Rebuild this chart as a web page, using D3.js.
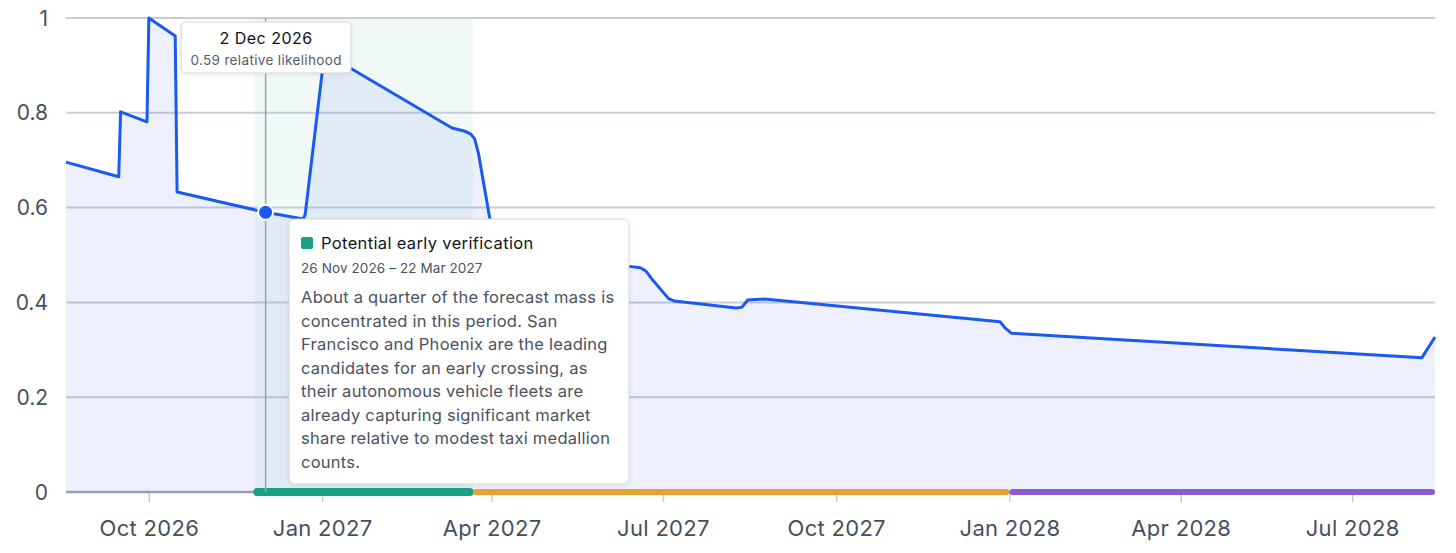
<!DOCTYPE html>
<html><head><meta charset="utf-8">
<script src="https://cdn.jsdelivr.net/npm/d3@7"></script>
<style>
html,body{margin:0;padding:0;background:#fff;}
svg{display:block;font-family:Inter,"Noto Sans",sans-serif;}
</style></head><body><svg id="c" width="1456" height="553"></svg>
<script>
// ---- data ----
const dates = ["2026-08-18","2026-09-15","2026-09-16","2026-09-30","2026-10-01","2026-10-15","2026-10-16",
  "2026-12-02","2026-12-22","2026-12-23","2027-01-01","2027-01-03","2027-01-17","2027-03-11","2027-03-18","2027-03-21","2027-03-23","2027-03-25",
  "2027-03-31","2027-04-05","2027-04-14","2027-06-13","2027-06-19","2027-06-22","2027-06-25","2027-07-04","2027-07-07","2027-08-09",
  "2027-08-12","2027-08-15","2027-08-24","2027-12-27","2027-12-30","2028-01-02","2028-08-07","2028-08-14"];
const values = [0.696,0.665,0.802,0.781,1.0,0.962,0.633,
  0.59,0.576,0.585,0.884,0.928,0.892,0.768,0.761,0.755,0.745,0.715,
  0.578,0.515,0.495,0.476,0.473,0.466,0.450,0.408,0.403,0.388,
  0.390,0.405,0.407,0.359,0.345,0.335,0.283,0.327];
const yTicks = [0,0.2,0.4,0.6,0.8,1];
const xTickDates = ["2026-10-01","2027-01-01","2027-04-01","2027-07-01","2027-10-01","2028-01-01","2028-04-01","2028-07-01"];
const periodStarts = ["2026-11-26","2027-03-22","2028-01-01"];
const periodEnds = ["2027-03-22","2028-01-01","2028-08-14"];
const periodColors = ["#17a083","#e6a035","#8a5cd3"];
const activePeriod = 0;
const periodTitle = "Potential early verification";
const periodRange = "26 Nov 2026 – 22 Mar 2027";
const periodText = ["About a quarter of the forecast mass is","concentrated in this period. San",
  "Francisco and Phoenix are the leading","candidates for an early crossing, as",
  "their autonomous vehicle fleets are","already capturing significant market",
  "share relative to modest taxi medallion","counts."];
const hoverDate = "2026-12-02";
const hoverValue = 0.59;
const domainStart = "2026-08-18", domainEnd = "2028-08-14";

// ---- setup ----
const P = d3.utcParse("%Y-%m-%d");
const data = dates.map((d,i)=>({d:P(d),v:values[i]}));
const svg = d3.select("#c");
const L=66,R=1435,T=18,B=492;
const x = d3.scaleUtc().domain([P(domainStart),P(domainEnd)]).range([L,R]);
const y = d3.scaleLinear().domain([0,1]).range([B,T]);

// highlighted band
svg.append("rect").attr("x",x(P(periodStarts[activePeriod]))).attr("y",T)
  .attr("width",x(P(periodEnds[activePeriod]))-x(P(periodStarts[activePeriod]))).attr("height",B-T)
  .attr("fill","#17a083").attr("fill-opacity",0.065);

// grid
svg.append("g").selectAll("line").data(yTicks.filter(t=>t>0)).join("line")
  .attr("x1",L).attr("x2",R).attr("y1",d=>y(d)).attr("y2",d=>y(d))
  .attr("stroke","#c9cdd5").attr("stroke-width",2);

// y labels
svg.append("g").selectAll("text").data(yTicks).join("text")
  .attr("x",48).attr("y",d=>y(d)).attr("dy","0.36em").attr("text-anchor","end")
  .attr("font-size",21).attr("fill","#475060").text(d=>d3.format("")(d));

// area + line
const area = d3.area().x(d=>x(d.d)).y0(B).y1(d=>y(d.v)).curve(d3.curveLinear);
const line = d3.line().x(d=>x(d.d)).y(d=>y(d.v)).curve(d3.curveLinear);
svg.append("path").datum(data).attr("d",area).attr("fill","#2a52e8").attr("fill-opacity",0.08);

// x ticks
const xa = d3.axisBottom(x).tickValues(xTickDates.map(P)).tickFormat(d3.utcFormat("%b %Y")).tickSize(10).tickPadding(18);
const gx = svg.append("g").attr("transform",`translate(0,${B})`).call(xa);
gx.select(".domain").remove();
gx.selectAll(".tick line").attr("stroke","#c5c9d1").attr("stroke-width",1.5);
gx.selectAll(".tick text").attr("font-size",22).attr("letter-spacing","0.3px").attr("fill","#475060").attr("font-family","Inter,'Noto Sans',sans-serif");

// baseline
svg.append("line").attr("x1",L).attr("x2",R).attr("y1",B).attr("y2",B).attr("stroke","#9aa0aa").attr("stroke-width",2.5);

svg.append("path").datum(data).attr("d",line).attr("fill","none").attr("stroke","#1a5af0").attr("stroke-width",3).attr("stroke-linejoin","round");

// period bars
svg.append("g").selectAll("line").data(periodStarts.map((s,i)=>({s:P(s),e:P(periodEnds[i]),c:periodColors[i],i}))).join("line")
  .attr("x1",d=>x(d.s)+3).attr("x2",d=>x(d.e)-3).attr("y1",B).attr("y2",B)
  .attr("stroke",d=>d.c).attr("stroke-width",d=>d.i===activePeriod?8:6).attr("stroke-linecap","round");

// hover line + point
const hx = x(P(hoverDate)), hy = y(hoverValue);
svg.append("line").attr("x1",hx).attr("x2",hx).attr("y1",T).attr("y2",B).attr("stroke","#9ca2ab").attr("stroke-width",1.5);

// defs shadow
const defs = svg.append("defs");
const f = defs.append("filter").attr("id","sh").attr("x","-20%").attr("y","-20%").attr("width","140%").attr("height","140%");
f.append("feDropShadow").attr("dx",0).attr("dy",1).attr("stdDeviation",2).attr("flood-color","#000").attr("flood-opacity",0.08);

// point tooltip
const tw=170, th=51;
const tg = svg.append("g").attr("transform",`translate(${hx-tw/2+0.5},22)`);
tg.append("rect").attr("width",tw).attr("height",th).attr("rx",5).attr("fill","#fff").attr("stroke","#d3d6dc").attr("filter","url(#sh)");
tg.append("text").attr("x",tw/2).attr("y",22).attr("text-anchor","middle").attr("font-size",16).attr("letter-spacing","0.5px").attr("font-weight",400).attr("fill","#0e1014").text(d3.utcFormat("%-d %b %Y")(P(hoverDate)));
tg.append("text").attr("x",tw/2).attr("y",43).attr("text-anchor","middle").attr("font-size",13.5).attr("letter-spacing","0.35px").attr("fill","#555d6b").text(`${hoverValue} relative likelihood`);

svg.append("circle").attr("cx",hx).attr("cy",hy).attr("r",7.5).attr("fill","#1a5af0").attr("stroke","#fff").attr("stroke-width",2);

// period popup
const pw=340, ph=265;
const pg = svg.append("g").attr("transform",`translate(289,219)`);
pg.append("rect").attr("width",pw).attr("height",ph).attr("rx",6).attr("fill","#fff").attr("stroke","#d3d6dc").attr("filter","url(#sh)");
pg.append("rect").attr("x",12).attr("y",18).attr("width",12).attr("height",12).attr("rx",2).attr("fill",periodColors[activePeriod]);
pg.append("text").attr("x",32).attr("y",30).attr("font-size",16.5).attr("letter-spacing","0.35px").attr("font-weight",400).attr("fill","#111418").text(periodTitle);
pg.append("text").attr("x",12).attr("y",54).attr("font-size",13.5).attr("letter-spacing","0.1px").attr("fill","#4b5260").text(periodRange);
pg.append("g").selectAll("text").data(periodText).join("text")
  .attr("x",12).attr("y",(d,i)=>84+i*23.5).attr("font-size",16.5).attr("letter-spacing","0.25px").attr("fill","#4b5260").text(d=>d);
</script></body></html>
